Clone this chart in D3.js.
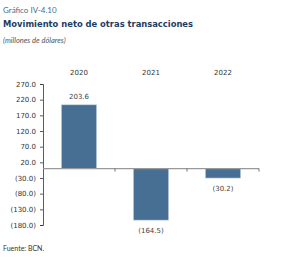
<!DOCTYPE html>
<html><head><meta charset="utf-8">
<script src="https://cdn.jsdelivr.net/npm/d3@7/dist/d3.min.js"></script>
<style>body{margin:0;background:#fff}svg{display:block}</style>
</head><body>
<script>
const categories = ["2020", "2021", "2022"];
const values = [203.6, -164.5, -30.2];
const tickValues = [270, 220, 170, 120, 70, 20, -30, -80, -130, -180];
const titleLines = ["Gráfico IV-4.10", "Movimiento neto de otras transacciones", "(millones de dólares)"];
const source = "Fuente: BCN.";

const W = 288, H = 257;
const svg = d3.select("body").append("svg").attr("width", W).attr("height", H);
const fmt = v => v < 0 ? "(" + d3.format(".1f")(-v) + ")" : d3.format(".1f")(v);

const x = d3.scaleBand().domain(categories).range([43, 259]).paddingInner(0.51).paddingOuter(0.255);
const y = d3.scaleLinear().domain([-180, 270]).range([225, 84]);

// titles
svg.append("text").attr("x", 3).attr("y", 13).attr("font-family", "Lato, sans-serif")
  .attr("font-size", 8).attr("fill", "#4a6a8a").text(titleLines[0]);
svg.append("text").attr("x", 3).attr("y", 27).attr("font-family", "'DejaVu Sans', sans-serif")
  .attr("font-weight", "bold").attr("font-size", 8.3).attr("fill", "#1d3d63")
  .attr("textLength", 190).attr("lengthAdjust", "spacingAndGlyphs").text(titleLines[1]);
svg.append("text").attr("x", 3).attr("y", 43).attr("font-family", "Lato, sans-serif")
  .attr("font-style", "italic").attr("font-size", 7.5).attr("fill", "#555").text(titleLines[2]);

// y axis
const yAxis = svg.append("g").attr("transform", "translate(43,0)")
  .call(d3.axisLeft(y).tickValues(tickValues).tickFormat(fmt).tickSize(3).tickPadding(4));
yAxis.select(".domain").attr("stroke", "#333").attr("stroke-width", 0.8);
yAxis.selectAll(".tick line").attr("stroke", "#333").attr("stroke-width", 0.8);
yAxis.selectAll(".tick text").attr("font-family", "'DejaVu Sans', sans-serif").attr("font-size", 7).attr("fill", "#333");

// bars
svg.selectAll("rect.bar").data(values).join("rect").attr("class", "bar")
  .attr("x", (d, i) => x(categories[i]))
  .attr("width", x.bandwidth())
  .attr("y", d => y(Math.max(0, d)))
  .attr("height", d => Math.abs(y(d) - y(0)))
  .attr("fill", "#466f93").attr("stroke", "#c8d3de").attr("stroke-width", 0.6);

// zero line with category ticks
const zeroY = y(0);
svg.append("line").attr("x1", 43).attr("x2", 259).attr("y1", zeroY).attr("y2", zeroY)
  .attr("stroke", "#999").attr("stroke-width", 1.2);
const bounds = categories.map((c, i) => 43 + (i + 1) * (259 - 43) / categories.length);
svg.selectAll("line.ct").data(bounds).join("line").attr("class", "ct")
  .attr("x1", d => d).attr("x2", d => d).attr("y1", zeroY).attr("y2", zeroY + 3)
  .attr("stroke", "#555").attr("stroke-width", 0.8);

// category labels on top
svg.selectAll("text.cat").data(categories).join("text").attr("class", "cat")
  .attr("x", d => x(d) + x.bandwidth() / 2).attr("y", 75)
  .attr("text-anchor", "middle").attr("font-family", "'DejaVu Sans', sans-serif")
  .attr("font-size", 7).attr("fill", "#333").text(d => d);

// value labels
svg.selectAll("text.val").data(values).join("text").attr("class", "val")
  .attr("x", (d, i) => x(categories[i]) + x.bandwidth() / 2)
  .attr("y", d => d >= 0 ? y(d) - 6 : y(d) + 13)
  .attr("text-anchor", "middle").attr("font-family", "'DejaVu Sans', sans-serif")
  .attr("font-size", 7).attr("fill", "#444").text(fmt);

svg.append("text").attr("x", 3).attr("y", 251).attr("font-family", "Lato, sans-serif")
  .attr("font-size", 7).attr("fill", "#333").text(source);
</script>
</body></html>
